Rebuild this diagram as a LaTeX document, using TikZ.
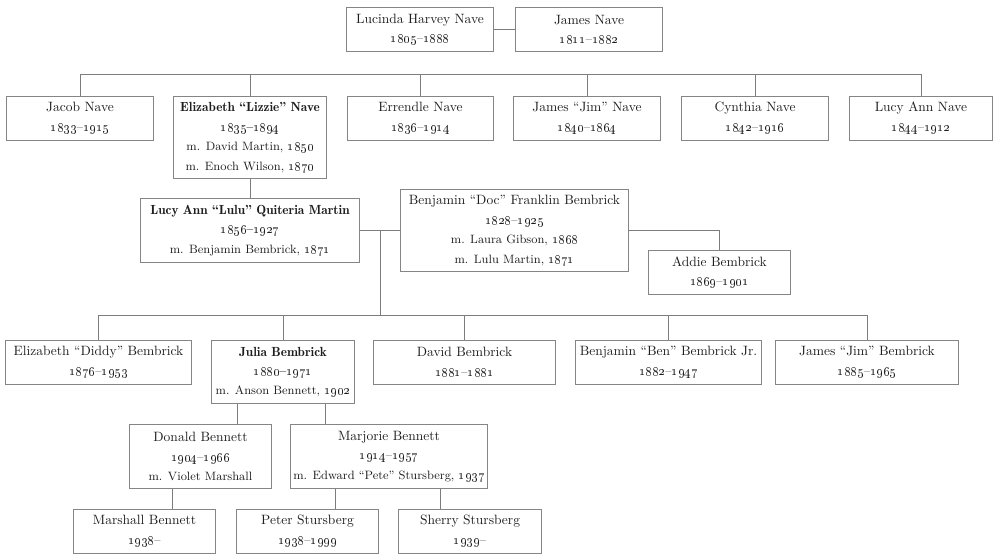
\documentclass[tikz,border=0pt]{standalone}
\usetikzlibrary{positioning}
\definecolor{boxLine}{HTML}{858585}
\definecolor{linkLine}{HTML}{7D7D7D}
\definecolor{nameInk}{HTML}{1E1E1E}
\newcommand{\yr}[1]{\oldstylenums{#1}}
\newcommand{\lifespan}[2]{\yr{#1}--\yr{#2}}
\newcommand{\nm}[1]{{\fontsize{9.6}{13.8}\selectfont #1}}
\newcommand{\bnm}[1]{{\fontsize{9.4}{13.8}\fontseries{b}\selectfont #1}}

\begin{document}
\begin{tikzpicture}[x=0.025cm,y=-0.025cm,
    every node/.style={font=\fontsize{8.6}{13.8}\selectfont,text=nameInk}]
      \tikzstyle{p}=[draw=boxLine,line width=0.7pt,fill=white,inner sep=2pt,
                     minimum height=1.1cm,minimum width=3.65cm,align=center]
      \tikzstyle{p3}=[p,minimum height=1.58cm]
      \tikzstyle{p4}=[p,minimum height=2.06cm]
      \tikzstyle{ln}=[draw=linkLine,line width=0.7pt]
      \useasboundingbox (0,0) rectangle (1000,559);
      \node[p] (lucinda) at (420,29.5) {\nm{Lucinda Harvey Nave}\\\lifespan{1805}{1888}};
      \node[p] (james) at (589,29.5) {\nm{James Nave}\\\lifespan{1811}{1882}};
      \node[p] (jacob) at (80,118) {\nm{Jacob Nave}\\\lifespan{1833}{1915}};
      \node[p4,minimum width=3.8cm,anchor=north] (lizzie) at (250,96)
            {\bnm{Elizabeth “Lizzie” Nave}\\\bnm{\lifespan{1835}{1894}}\\
             m. David Martin, \yr{1850}\\m. Enoch Wilson, \yr{1870}};
      \node[p,minimum width=3.625cm] (errendle) at (420.5,118) {\nm{Errendle Nave}\\\lifespan{1836}{1914}};
      \node[p] (jim) at (587,118) {\nm{James “Jim” Nave}\\\lifespan{1840}{1864}};
      \node[p] (cynthia) at (755,118) {\nm{Cynthia Nave}\\\lifespan{1842}{1916}};
      \node[p,minimum width=3.55cm] (lucyann) at (921,118) {\nm{Lucy Ann Nave}\\\lifespan{1844}{1912}};
      \node[p3,minimum width=5.45cm] (lulu) at (250,230.5)
            {\bnm{Lucy Ann “Lulu” Quiteria Martin}\\\bnm{\lifespan{1856}{1927}}\\
             m. Benjamin Bembrick, \yr{1871}};
      \node[p4,minimum width=5.675cm] (doc) at (514.5,230.5)
            {\nm{Benjamin “Doc” Franklin Bembrick}\\\lifespan{1828}{1925}\\
             m. Laura Gibson, \yr{1868}\\m. Lulu Martin, \yr{1871}};
      \node[p,minimum width=3.525cm] (addie) at (719.5,272.5) {\nm{Addie Bembrick}\\\lifespan{1869}{1901}};
      \node[p,minimum width=4.625cm] (diddy) at (98.5,362) {\nm{Elizabeth “Diddy” Bembrick}\\\lifespan{1876}{1953}};
      \node[p3,minimum width=3.55cm,anchor=north] (julia) at (283,340)
            {\bnm{Julia Bembrick}\\\bnm{\lifespan{1880}{1971}}\\m. Anson Bennett, \yr{1902}};
      \node[p,minimum width=4.525cm] (david) at (464.5,362) {\nm{David Bembrick}\\\lifespan{1881}{1881}};
      \node[p,minimum width=4.625cm] (ben) at (668.5,362) {\nm{Benjamin “Ben” Bembrick Jr.}\\\lifespan{1882}{1947}};
      \node[p,minimum width=4.55cm] (jimb) at (867,362) {\nm{James “Jim” Bembrick}\\\lifespan{1885}{1965}};
      \node[p3,minimum width=3.525cm] (donald) at (200.5,456.5)
            {\nm{Donald Bennett}\\\lifespan{1904}{1966}\\m. Violet Marshall};
      \node[p3,minimum width=4.8cm] (marjorie) at (389,456.5)
            {\nm{Marjorie Bennett}\\\lifespan{1914}{1957}\\m. Edward “Pete” Stursberg, \yr{1937}};
      \node[p,minimum width=3.525cm] (marshall) at (144.5,531) {\nm{Marshall Bennett}\\\yr{1938}--};
      \node[p,minimum width=3.525cm] (peter) at (307.5,531) {\nm{Peter Stursberg}\\\lifespan{1938}{1999}};
      \node[p,minimum width=3.55cm] (sherry) at (470,531) {\nm{Sherry Stursberg}\\\yr{1939}--};
      \draw[ln] (lucinda) -- (james);
      \path (jacob.north) ++(0,-21) coordinate (bar);
      \draw[ln] (jacob.north) -- (bar) -| (lucyann.north);
      \foreach \k in {lizzie,errendle,jim,cynthia}
        \draw[ln] (\k.north) -- (\k.north |- bar);
      \draw[ln] (lizzie) -- (lulu);
      \draw[ln] (lulu.east) -- (doc.west) coordinate[midway] (wed);
      \draw[ln] (doc.east) -| (addie.north);
      \path (diddy.north) ++(0,-24) coordinate (bar2);
      \draw[ln] (wed) -- (wed |- bar2);
      \draw[ln] (diddy.north) -- (bar2) -| (jimb.north);
      \foreach \k in {julia,david,ben}
        \draw[ln] (\k.north) -- (\k.north |- bar2);
      \path ([xshift=-1.125cm]julia.south) coordinate (j1)
            ([xshift=1.05cm]julia.south) coordinate (j2)
            ([xshift=-0.7125cm]donald.south) coordinate (d1)
            ([xshift=-1.325cm]marjorie.south) coordinate (m1)
            ([xshift=1.275cm]marjorie.south) coordinate (m2);
      \draw[ln] (j1) -- (j1 |- donald.north);
      \draw[ln] (j2) -- (j2 |- marjorie.north);
      \draw[ln] (d1) -- (d1 |- marshall.north);
      \draw[ln] (m1) -- (m1 |- peter.north);
      \draw[ln] (m2) -- (m2 |- sherry.north);
    \end{tikzpicture}
\end{document}
